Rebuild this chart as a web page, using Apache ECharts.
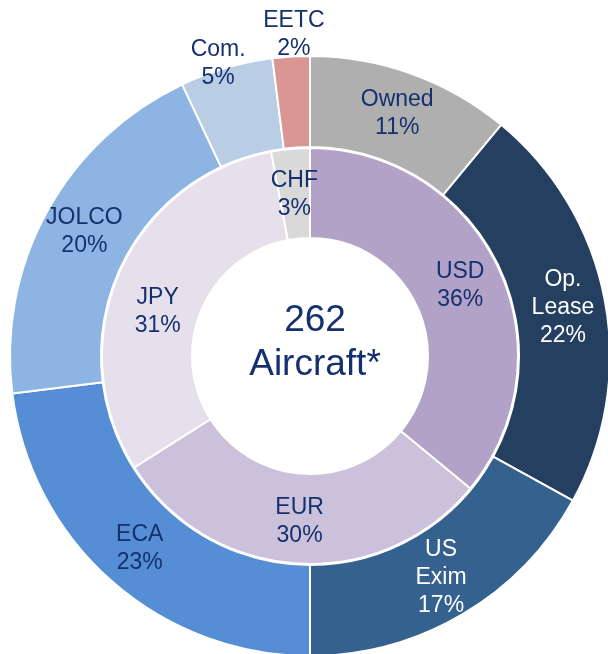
<!DOCTYPE html>
<html>
<head>
<meta charset="utf-8">
<script src="https://cdn.jsdelivr.net/npm/echarts@6/dist/echarts.min.js"></script>
<style>
  html, body { margin: 0; padding: 0; background: #fff; }
  #main { width: 608px; height: 654px; }
</style>
</head>
<body>
<div id="main"></div>
<script>
// financing mix (outer ring), clockwise from top
var outerNames = ['Owned', 'Op.\nLease', 'US\nExim', 'ECA', 'JOLCO', 'Com.', 'EETC'];
var outerValues = [11, 22, 17, 23, 20, 5, 2];
var outerColors = ['#AFAFAF', '#243F60', '#35618F', '#558ED5', '#8EB4E3', '#B9CDE5', '#D99694'];
var outerTextColors = ['#14306E', '#fff', '#fff', '#14306E', '#14306E', '#14306E', '#14306E'];

// currency mix (inner ring)
var innerNames = ['USD', 'EUR', 'JPY', 'CHF'];
var innerValues = [36, 30, 31, 3];
var innerColors = ['#B3A2C7', '#CCC1DA', '#E6E0EC', '#D9D9D9'];

var centerText = '262\nAircraft*';
var fontFam = 'Arial, "Liberation Sans", sans-serif';

var chart = echarts.init(document.getElementById('main'));

function buildOuter() {
  var arr = [];
  for (var i = 0; i < outerNames.length; i++) {
    var item = {
      name: outerNames[i],
      value: outerValues[i],
      itemStyle: { color: outerColors[i] },
      label: { color: outerTextColors[i] }
    };
    // small slices get their label above the ring
    if (outerValues[i] <= 5) {
      item.label.position = 'outside';
      item.labelLine = { show: false };
    }
    arr.push(item);
  }
  return arr;
}

function buildInner() {
  var arr = [];
  for (var i = 0; i < innerNames.length; i++) {
    arr.push({ name: innerNames[i], value: innerValues[i], itemStyle: { color: innerColors[i] } });
  }
  return arr;
}

var option = {
  animation: false,
  title: {
    text: centerText,
    left: 310,
    top: 294,
    textAlign: 'center',
    textStyle: { fontFamily: fontFam, fontSize: 37, fontWeight: 'normal', color: '#14306E', lineHeight: 44 }
  },
  series: [
    {
      type: 'pie',
      center: [310, 356],
      radius: [209, 300],
      startAngle: 90,
      clockwise: true,
      avoidLabelOverlap: false,
      itemStyle: { borderColor: '#fff', borderWidth: 2 },
      label: {
        position: 'inside',
        formatter: '{b}\n{c}%',
        fontFamily: fontFam,
        fontSize: 23,
        lineHeight: 28
      },
      labelLine: { show: false, length: 4, length2: 0 },
      labelLayout: function (p) {
        if (p.dataIndex === 5) return { align: 'center', verticalAlign: 'middle', dx: -2 };
        if (p.dataIndex === 6) return { align: 'center', verticalAlign: 'bottom', dx: 8, dy: 10 };
      },
      emphasis: { disabled: true },
      data: buildOuter()
    },
    {
      type: 'pie',
      center: [310, 356],
      radius: [118, 208],
      startAngle: 90,
      clockwise: true,
      itemStyle: { borderColor: '#fff', borderWidth: 2 },
      label: {
        position: 'inside',
        formatter: '{b}\n{c}%',
        color: '#14306E',
        fontFamily: fontFam,
        fontSize: 23,
        lineHeight: 28
      },
      labelLayout: function (p) {
        if (p.dataIndex === 2) return { dy: 22 };
        if (p.dataIndex === 3) return { dy: 4 };
      },
      emphasis: { disabled: true },
      data: buildInner()
    }
  ]
};

chart.setOption(option);
</script>
</body>
</html>
